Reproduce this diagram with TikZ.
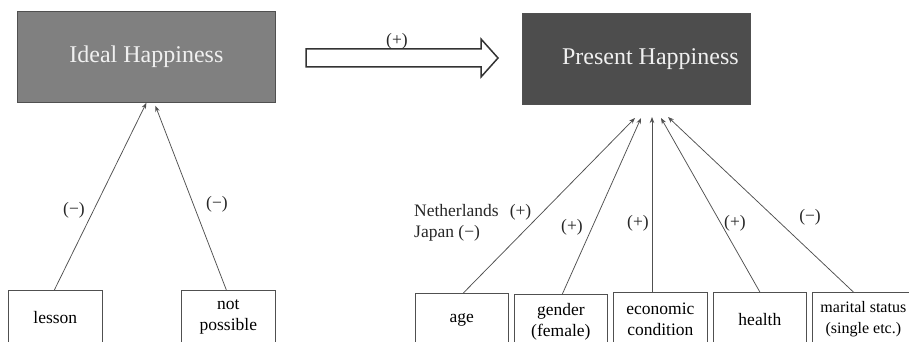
\documentclass[tikz,border=0pt]{standalone}
\usepackage{fontspec}
\setmainfont{Liberation Serif}
\newfontfamily\tnr{Liberation Serif}
\usetikzlibrary{arrows.meta}
\definecolor{idealgray}{RGB}{128,128,128}
\definecolor{presgray}{RGB}{77,77,77}
\definecolor{linegray}{RGB}{80,80,80}
\begin{document}
\begin{tikzpicture}[x=1pt,y=-1pt,
  hbox/.style={draw=linegray, line width=0.8pt, text=white!94!black, inner sep=0pt,
    anchor=north west, minimum height=91pt, font=\tnr\fontsize{24}{28}\selectfont},
  fbox/.style={draw=linegray, line width=0.7pt, fill=white, inner sep=0pt, anchor=north west,
    minimum height=54pt, align=center, font=\tnr\fontsize{17.5}{21}\selectfont},
  infl/.style={draw=linegray, line width=0.75pt, -{Stealth[length=6pt,width=4.5pt]}},
  sign/.style={font=\tnr\fontsize{17.5}{21}\selectfont, text=black!85, inner sep=0pt},
  bigarrow/.style={draw=black!80, line width=1.5pt, fill=white}
]
\useasboundingbox (0,0) rectangle (909,342);
\clip (0,0) rectangle (909,342);

% main boxes
\node[hbox, fill=idealgray, minimum width=258pt] (ideal) at (17,11) {Ideal Happiness};
\node[hbox, fill=presgray, minimum width=228pt] (present) at (522,13) {\hspace*{28pt}Present Happiness};

% big arrow
\coordinate (a1) at (306,49);
\coordinate (a2) at (481,49);
\coordinate (a3) at (481,39);
\coordinate (a4) at (498,58);
\coordinate (a5) at (481,77);
\coordinate (a6) at (481,67);
\coordinate (a7) at (306,67);
\draw[bigarrow, line join=miter] (a1) -- (a2) -- (a3) -- (a4) -- (a5) -- (a6) -- (a7) -- cycle;
\node[sign, anchor=base] (plusbig) at (397,46) {(+)};

% factor boxes
\node[fbox, minimum width=94pt] (lesson) at (8,290) {lesson};
\node[fbox, minimum width=94pt] (notposs) at (181,290) {not\\possible};
\node[fbox, minimum width=93pt] (age) at (415,293) {age};
\node[fbox, minimum width=93pt] (gender) at (514,294) {gender\\(female)};
\node[fbox, minimum width=94pt] (econ) at (613,292) {economic\\condition};
\node[fbox, minimum width=93pt] (health) at (713,292) {health};
\node[fbox, minimum width=102pt, font=\tnr\fontsize{16}{21}\selectfont] (marital) at (812,292) {marital status\\(single etc.)};

% influences on ideal happiness
\draw[infl] ([xshift=-1pt]lesson.north) -- (ideal.south);
\draw[infl] ([xshift=-2pt]notposs.north) -- ([xshift=9pt,yshift=-3pt]ideal.south);
\node[sign] (s1) at (74,210) {(−)};
\node[sign] (s2) at (217,204) {(−)};

% influences on present happiness
\coordinate (t1) at (635,118);
\coordinate (t2) at (641,118);
\coordinate (t3) at (652,117);
\coordinate (t4) at (661,118);
\coordinate (t5) at (668,117);
\draw[infl] ([xshift=1.5pt]age.north) -- (t1);
\draw[infl] ([xshift=1.5pt]gender.north) -- (t2);
\draw[infl] (t3 |- econ.north) -- (t3);
\draw[infl] (health.north) -- (t4);
\draw[infl] ([xshift=-10pt]marital.north) -- (t5);

\node[sign, anchor=west, align=left] (s3) at (414,222.5) {Netherlands\hspace{11pt}(+)\\Japan (−)};
\node[sign] (s4) at (572,227) {(+)};
\node[sign] (s5) at (638,223) {(+)};
\node[sign] (s6) at (735,223) {(+)};
\node[sign] (s7) at (810,217) {(−)};
\end{tikzpicture}
\end{document}
